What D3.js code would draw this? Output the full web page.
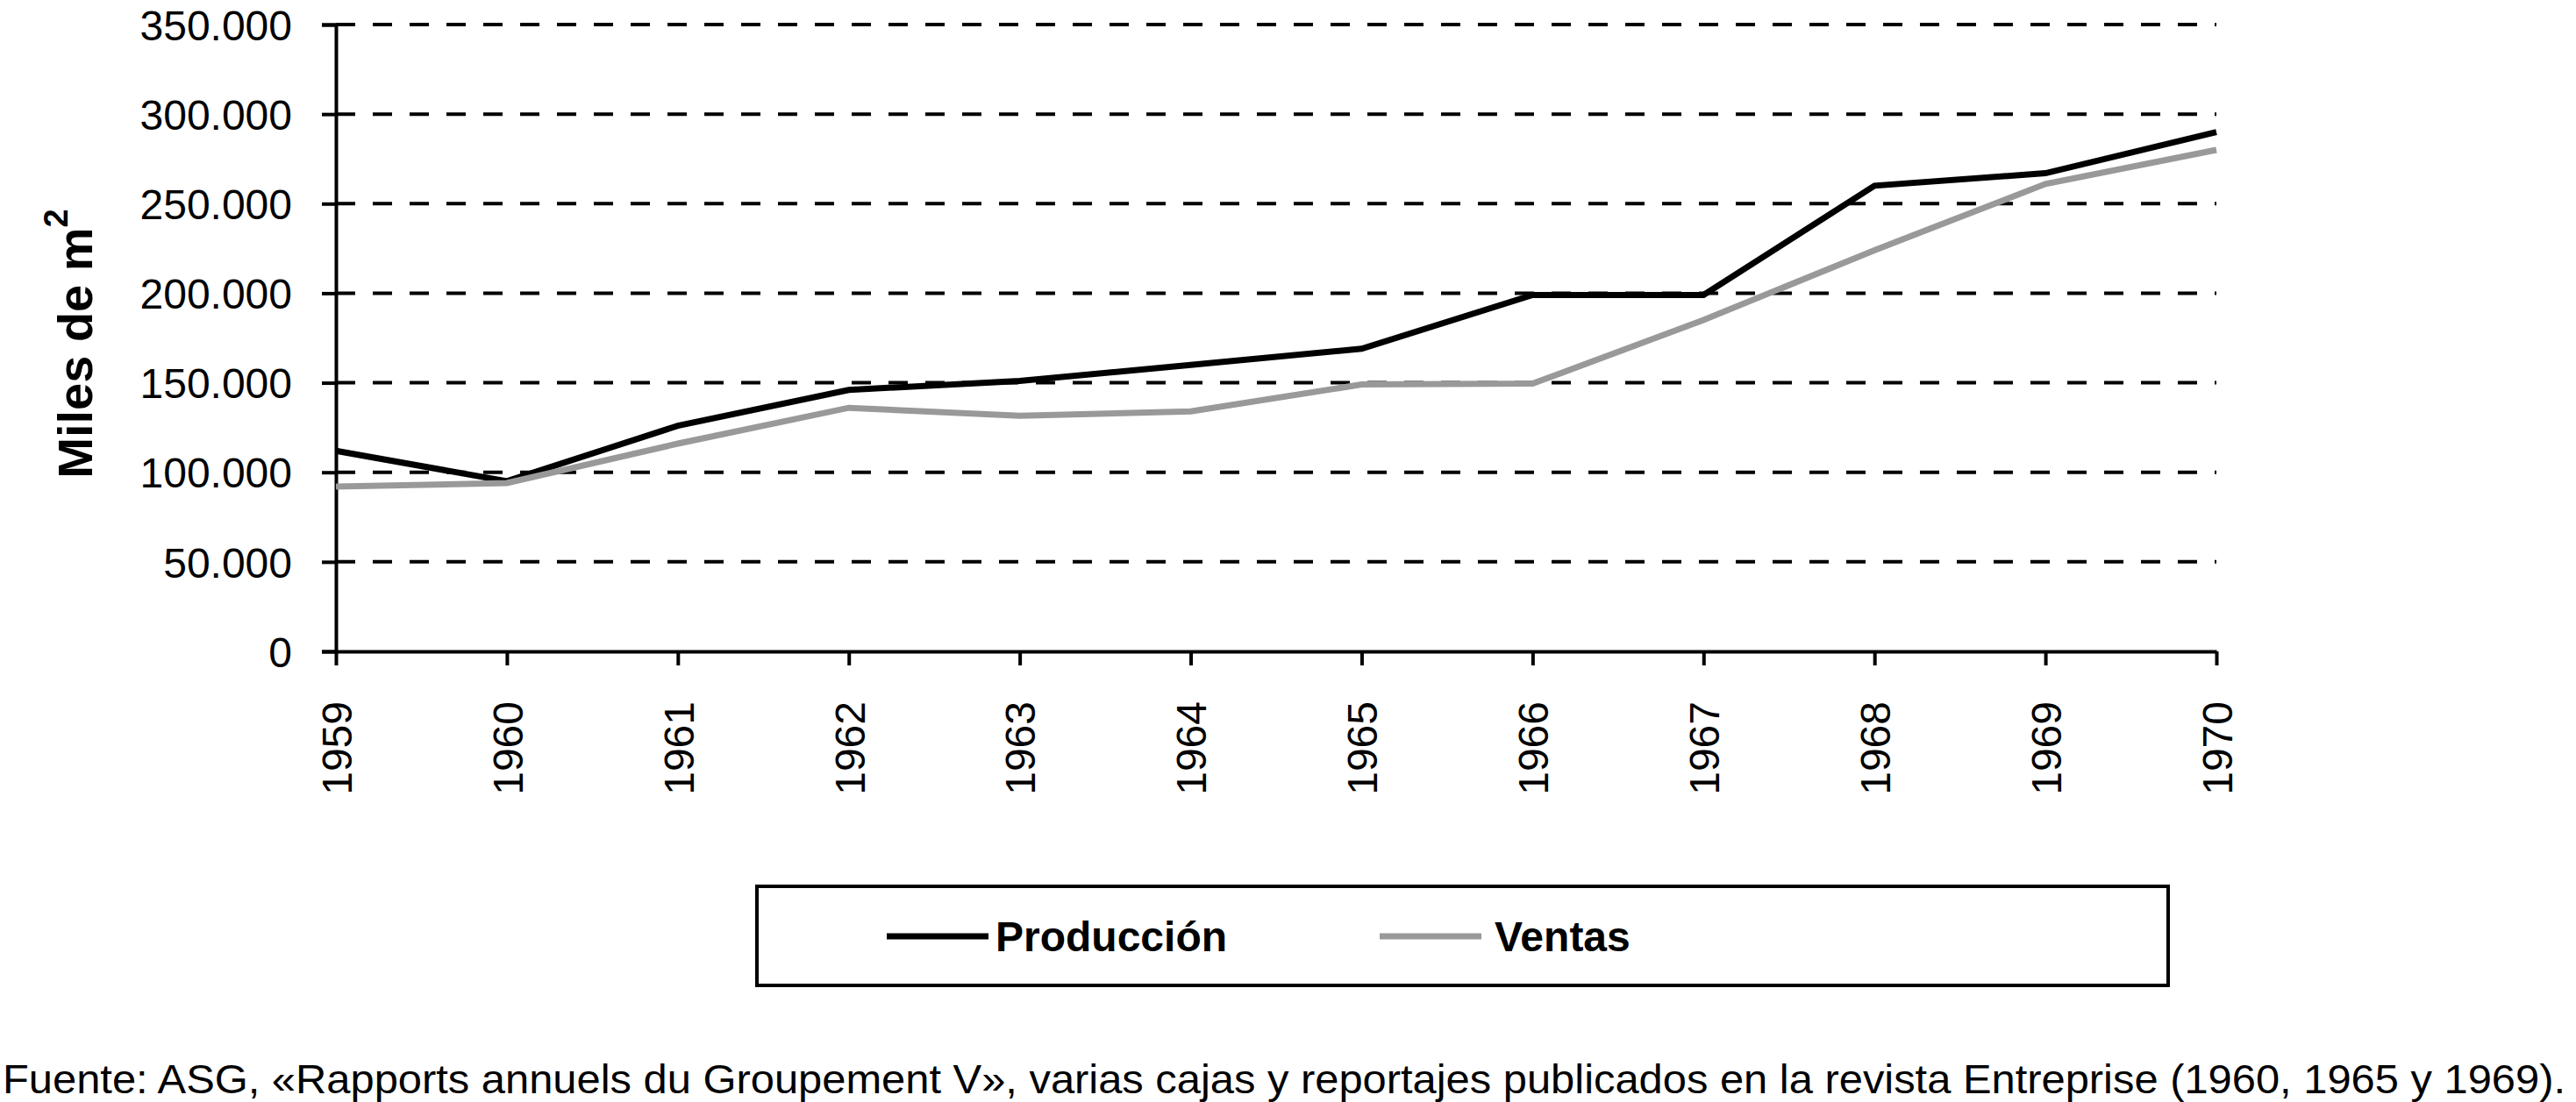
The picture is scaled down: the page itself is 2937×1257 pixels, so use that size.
<!DOCTYPE html>
<html>
<head>
<meta charset="utf-8">
<script src="https://cdn.jsdelivr.net/npm/d3@7"></script>
<style>
  html, body { margin: 0; padding: 0; background: #fff; }
  svg { display: block; }
  text { font-family: "Liberation Sans", Arial, Helvetica, sans-serif; fill: #000; }
</style>
</head>
<body>
<svg id="chart" width="2937" height="1257"></svg>
<script>
const years = ["1959","1960","1961","1962","1963","1964","1965","1966","1967","1968","1969","1970"];
const produccion = [112000, 95000, 126000, 146000, 151000, 160000, 169000, 199000, 199000, 260000, 267000, 290000];
const ventas = [92000, 94000, 116000, 136000, 131500, 134000, 149000, 149500, 185000, 224000, 261000, 280000];
const yTicks = [0, 50000, 100000, 150000, 200000, 250000, 300000, 350000];
const seriesNames = ["Producción", "Ventas"];
const seriesColors = ["#000000", "#999999"];
const yTitleMain = "Miles de m";
const yTitleSup = "2";
const footer = "Fuente: ASG, «Rapports annuels du Groupement V», varias cajas y reportajes publicados en la revista Entreprise (1960, 1965 y 1969).";

(function () {
const svg = d3.select("#chart");
const pL = 383, pR = 2527, pT = 28, pB = 743;

const x = d3.scalePoint().domain(years).range([pL, pR]);
const y = d3.scaleLinear().domain([0, 350000]).range([pB, pT]);
const fmt = d => d === 0 ? "0" : d3.format(",")(d).replace(/,/g, ".");

// gridlines
svg.append("g").selectAll("line").data(yTicks.filter(d => d > 0)).join("line")
  .attr("x1", pL).attr("x2", pR)
  .attr("y1", d => y(d)).attr("y2", d => y(d))
  .attr("stroke", "#000").attr("stroke-width", 4)
  .attr("stroke-dasharray", "22 20");

// y axis
const ya = svg.append("g").attr("transform", `translate(${pL},0)`)
  .call(d3.axisLeft(y).tickValues(yTicks).tickSize(16).tickPadding(34).tickFormat(fmt));
ya.select(".domain").attr("stroke", "#000").attr("stroke-width", 4);
ya.selectAll(".tick line").attr("stroke", "#000").attr("stroke-width", 4);
ya.selectAll(".tick text").style("font-size", "48px").attr("dy", "0.36em")
  .style("font-family", '"Liberation Sans", Arial, sans-serif');

// x axis
const xa = svg.append("g").attr("transform", `translate(0,${pB})`)
  .call(d3.axisBottom(x).tickSize(16).tickSizeOuter(0));
xa.select(".domain").attr("stroke", "#000").attr("stroke-width", 4);
xa.selectAll(".tick line").attr("stroke", "#000").attr("stroke-width", 4);
xa.selectAll(".tick text")
  .attr("transform", "rotate(-90)")
  .attr("x", -57).attr("y", 0).attr("dy", "0.36em")
  .style("text-anchor", "end")
  .style("font-size", "48px")
  .style("font-family", '"Liberation Sans", Arial, sans-serif');

// lines
const line = d3.line().x((d, i) => x(years[i])).y(d => y(d));
[produccion, ventas].forEach((s, k) => {
  svg.append("path").datum(s)
    .attr("d", line)
    .attr("fill", "none")
    .attr("stroke", seriesColors[k])
    .attr("stroke-width", 7)
    .attr("stroke-linejoin", "miter");
});

// y title
const yt = svg.append("text")
  .attr("transform", "translate(85,392) rotate(-90)")
  .attr("text-anchor", "middle").attr("dy", "0.36em")
  .style("font-size", "56px").style("font-weight", "bold");
yt.append("tspan").text(yTitleMain);
yt.append("tspan").attr("dy", "-0.75em").style("font-size", "38px").text(yTitleSup);

// legend
const lg = svg.append("g");
lg.append("rect").attr("x", 863).attr("y", 1011).attr("width", 1609).attr("height", 113)
  .attr("fill", "#fff").attr("stroke", "#000").attr("stroke-width", 4);
const legendPos = [{lx: 1011, tx: 1135}, {lx: 1573, tx: 1704}];
seriesNames.forEach((n, k) => {
  lg.append("line").attr("x1", legendPos[k].lx).attr("x2", legendPos[k].lx + 116)
    .attr("y1", 1068).attr("y2", 1068)
    .attr("stroke", seriesColors[k]).attr("stroke-width", 7);
  lg.append("text").attr("x", legendPos[k].tx).attr("y", 1068).attr("dy", "0.36em")
    .style("font-size", "48px").style("font-weight", "bold").text(n);
});

// footer
svg.append("text").attr("x", 3).attr("y", 1247)
  .attr("textLength", 2922).attr("lengthAdjust", "spacingAndGlyphs")
  .style("font-size", "46px").text(footer);
})();
</script>
</body>
</html>
